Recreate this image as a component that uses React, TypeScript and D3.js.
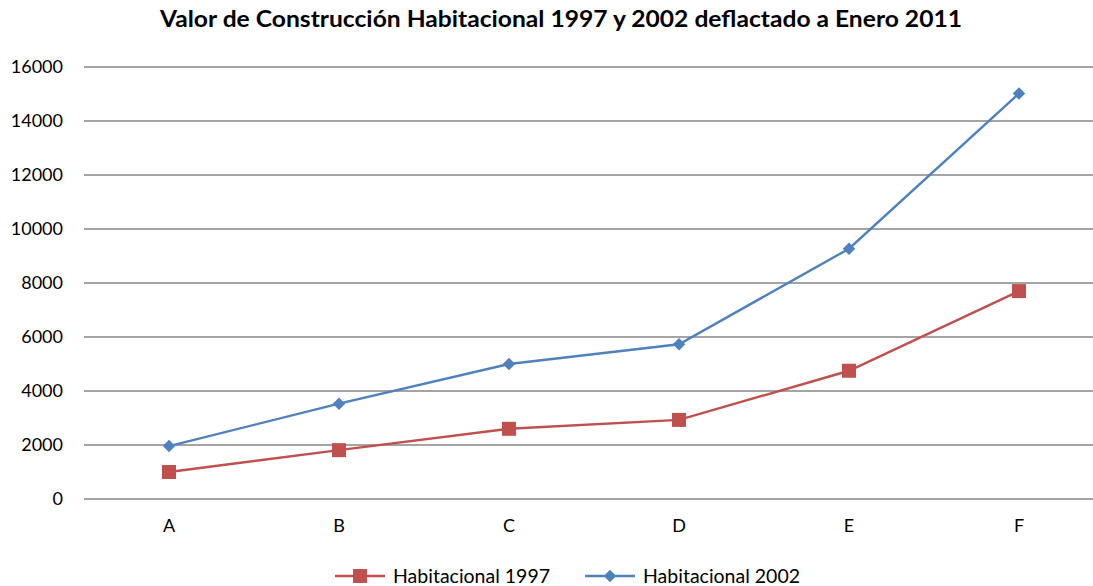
import { useEffect, useRef } from "react";
import * as d3 from "d3";

const categories = ["A", "B", "C", "D", "E", "F"];
const values1997 = [1000, 1810, 2600, 2930, 4750, 7700];
const values2002 = [1960, 3530, 5000, 5730, 9270, 15020];
const yTicks = [0, 2000, 4000, 6000, 8000, 10000, 12000, 14000, 16000];
const seriesNames = ["Habitacional 1997", "Habitacional 2002"];

const W = 1093;
const H = 586;
const RED = "#C0504D";
const BLUE = "#4F81BD";
const FONT = "Lato, 'Open Sans', sans-serif";

export default function App() {
  const ref = useRef<SVGSVGElement>(null);

  useEffect(() => {
    const svg = d3.select(ref.current);
    svg.selectAll("*").remove();

    const x = d3.scalePoint().domain(categories).range([169, 1019]);
    const y = d3.scaleLinear().domain([0, 16000]).range([499, 67]);

    svg
      .append("text")
      .attr("x", 561)
      .attr("y", 27)
      .attr("text-anchor", "middle")
      .attr("font-family", FONT)
      .attr("font-weight", "bold")
      .attr("font-size", 22)
      .attr("textLength", 802)
      .attr("lengthAdjust", "spacingAndGlyphs")
      .attr("fill", "#000")
      .text("Valor de Construcción Habitacional 1997 y 2002 deflactado a Enero 2011");

    // grid lines
    svg
      .append("g")
      .selectAll("line")
      .data(yTicks)
      .join("line")
      .attr("x1", 84)
      .attr("x2", W)
      .attr("y1", (d) => y(d))
      .attr("y2", (d) => y(d))
      .attr("stroke", "#868686")
      .attr("stroke-width", 1.3);

    svg
      .append("g")
      .selectAll("text")
      .data(yTicks)
      .join("text")
      .attr("x", 63)
      .attr("y", (d) => y(d))
      .attr("dy", "0.35em")
      .attr("text-anchor", "end")
      .attr("font-family", FONT)
      .attr("font-size", 18)
      .attr("fill", "#000")
      .text((d) => String(d));

    svg
      .append("g")
      .selectAll("text")
      .data(categories)
      .join("text")
      .attr("x", (d) => x(d)!)
      .attr("y", 532)
      .attr("text-anchor", "middle")
      .attr("font-family", FONT)
      .attr("font-size", 18)
      .attr("fill", "#000")
      .text((d) => d);

    const line = d3
      .line<number>()
      .x((_, i) => x(categories[i])!)
      .y((d) => y(d));

    // 1997 series (red squares)
    svg
      .append("path")
      .attr("d", line(values1997))
      .attr("fill", "none")
      .attr("stroke", RED)
      .attr("stroke-width", 2.4);
    svg
      .append("g")
      .selectAll("rect")
      .data(values1997)
      .join("rect")
      .attr("x", (_, i) => x(categories[i])! - 7)
      .attr("y", (d) => y(d) - 7)
      .attr("width", 14)
      .attr("height", 14)
      .attr("fill", RED);

    // 2002 series (blue diamonds)
    svg
      .append("path")
      .attr("d", line(values2002))
      .attr("fill", "none")
      .attr("stroke", BLUE)
      .attr("stroke-width", 2.4);
    const diamond = d3.symbol().type(d3.symbolDiamond2).size(100);
    svg
      .append("g")
      .selectAll("path")
      .data(values2002)
      .join("path")
      .attr("d", diamond()!)
      .attr("transform", (d, i) => `translate(${x(categories[i])},${y(d)})`)
      .attr("fill", BLUE);

    // legend
    const legend = svg.append("g").attr("transform", "translate(0,576)");
    const items = [
      { name: seriesNames[0], color: RED, x0: 335, marker: "square" },
      { name: seriesNames[1], color: BLUE, x0: 585, marker: "diamond" },
    ];
    items.forEach((it) => {
      legend
        .append("line")
        .attr("x1", it.x0)
        .attr("x2", it.x0 + 50)
        .attr("stroke", it.color)
        .attr("stroke-width", 2.4);
      if (it.marker === "square") {
        legend
          .append("rect")
          .attr("x", it.x0 + 25 - 7)
          .attr("y", -7)
          .attr("width", 14)
          .attr("height", 14)
          .attr("fill", it.color);
      } else {
        legend
          .append("path")
          .attr("d", diamond()!)
          .attr("transform", `translate(${it.x0 + 25},0)`)
          .attr("fill", it.color);
      }
      legend
        .append("text")
        .attr("x", it.x0 + 58)
        .attr("dy", "0.35em")
        .attr("font-family", FONT)
        .attr("font-size", 19.5)
        .attr("fill", "#000")
        .text(it.name);
    });
  }, []);

  return (
    <svg
      ref={ref}
      width={W}
      height={H}
      style={{ position: "absolute", left: 0, top: 0, background: "#fff" }}
    />
  );
}
